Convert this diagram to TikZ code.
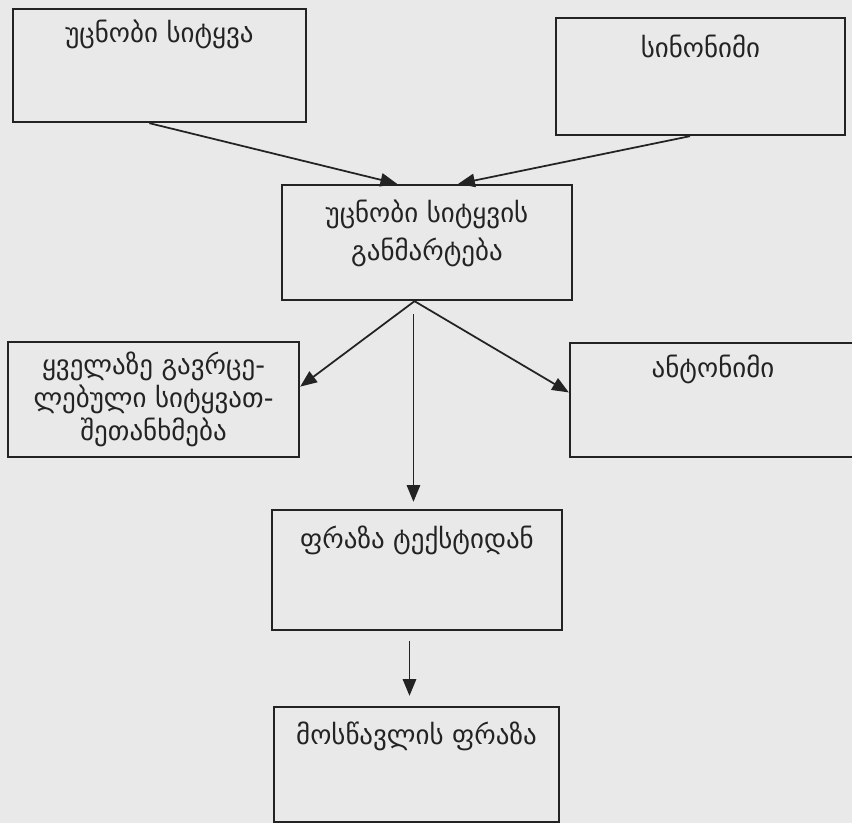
\documentclass[tikz,border=0pt]{standalone}
\usepackage{fontspec}
\newfontfamily\geofont{DejaVu Sans}
\usetikzlibrary{arrows.meta}
\definecolor{paper}{RGB}{233,233,233}
\definecolor{ink}{RGB}{35,35,35}

\begin{document}
\begin{tikzpicture}[x=0.03cm,y=-0.03cm,
    box/.style={draw=ink,line width=2pt,minimum width=8.7cm,minimum height=3.45cm,inner sep=0pt},
    word/.style={text=ink,font=\geofont\fontsize{23}{28}\selectfont,align=center,inner sep=0pt},
    link/.style={ink,line width=1.5pt,-{Triangle[length=0.5cm,width=0.4cm]}}]

  % Paper
  \clip (0,0) rectangle (852,823);
  \fill[paper] (0,0) rectangle (852,823);

  % Define boxes
  \node[box,minimum width=8.79cm,minimum height=3.39cm] (A) at (159.5,65.5) {};
  \node[box,minimum width=8.67cm,minimum height=3.51cm] (B) at (700.5,76.5) {};
  \node[box] (C) at (427,242.5) {};
  \node[box,minimum width=8.73cm] (D) at (153.5,399.5) {};
  \node[box,minimum width=8.58cm,minimum height=3.42cm] (E) at (713,400) {};
  \node[box,minimum height=3.6cm] (F) at (417,570) {};
  \node[box,minimum width=8.55cm] (G) at (416.5,764.5) {};

  % Box texts
  \node[word,yshift=-0.81cm] (a) at (A.north) {უცნობი სიტყვა};
  \node[word,yshift=-0.9cm] (b) at (B.north) {სინონიმი};
  \node[word,font=\geofont\fontsize{23}{33}\selectfont,yshift=0.27cm] (c) at (C) {უცნობი სიტყვის\\განმარტება};
  \node[word] (d) at (D) {ყველაზე გავრცე-\\ლებული სიტყვათ-\\შეთანხმება};
  \node[word,yshift=-0.84cm] (e) at (E.north) {ანტონიმი};
  \node[word,yshift=-0.96cm] (f) at (F.north) {ფრაზა ტექსტიდან};
  \node[word,yshift=-0.93cm] (g) at (G.north) {მოსწავლის ფრაზა};

  % Draw arrows
  \path[link]
    (A.260) edge (C.117)
    (B.260) edge (C.62)
    (C.258) edge (D.5)
    (C.258) edge (E.177)
    (C.257) edge[shorten <=0.39cm,shorten >=0.21cm] (C.257 |- F.north)
    (F.263) edge[shorten <=0.3cm,shorten >=0.3cm] (F.263 |- G.north);

\end{tikzpicture}
\end{document}
